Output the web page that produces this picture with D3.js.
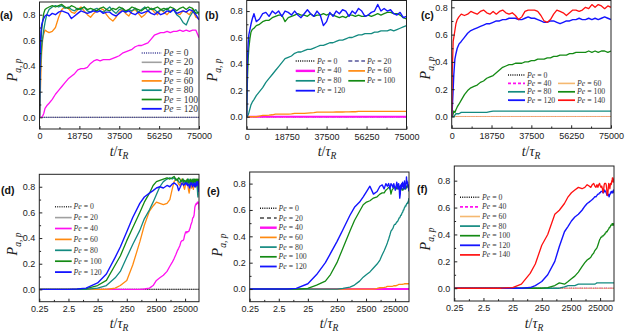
<!DOCTYPE html>
<html><head><meta charset="utf-8">
<script src="https://cdn.jsdelivr.net/npm/d3@7"></script>
<style>body{margin:0;background:#fff}svg{display:block}</style>
</head><body><svg id="c" width="625" height="332"></svg>
<script>
// ---------------- DATA ----------------
const T = [0.25, 1, 2.5, 5, 10, 25, 50, 100, 150, 250, 400, 700, 1000, 1500, 2000, 2600, 3400, 4500, 6000, 7500, 9000,
 10500, 12000, 13500, 15000, 16500, 18000, 19500, 21000, 22500, 24000, 25500,
 27000, 28500, 30000, 31500, 33000, 34500, 36000, 37500, 39000, 40500, 42000,
 43500, 45000, 46500, 48000, 49500, 51000, 52500, 54000, 55500, 57000, 58500,
 60000, 61500, 63000, 64500, 66000, 67500, 69000, 70500, 72000, 73500, 75000];
const tZero = [0.25, 75000];
const zero = [0, 0];

// system of panels (a)/(d)
const A40 = [0,0,0,0,0,0,0,0,0,0,0,0,0.003,0.01,0.03,0.07,0.09,0.11,0.14,0.18,0.21,
 0.24,0.27,0.30,0.32,0.34,0.37,0.38,0.38,0.39,0.42,0.44,
 0.45,0.44,0.45,0.45,0.45,0.46,0.47,0.48,0.50,0.51,0.52,
 0.53,0.55,0.56,0.56,0.57,0.58,0.61,0.64,0.65,0.66,0.66,
 0.67,0.66,0.67,0.67,0.68,0.67,0.68,0.67,0.68,0.68,0.62];
const A60 = [0,0,0,0,0,0,0,0.01,0.03,0.07,0.19,0.37,0.50,0.61,0.65,0.68,0.67,0.66,0.67,0.70,0.78,
 0.84,0.86,0.85,0.82,0.81,0.84,0.86,0.83,0.80,0.78,0.81,
 0.83,0.85,0.84,0.80,0.77,0.75,0.78,0.82,0.84,0.81,0.79,
 0.83,0.84,0.81,0.78,0.80,0.83,0.85,0.82,0.80,0.84,0.82,
 0.80,0.83,0.84,0.81,0.80,0.83,0.82,0.80,0.84,0.78,0.77];
const A80 = [0,0,0,0,0,0.01,0.03,0.09,0.14,0.25,0.35,0.46,0.55,0.62,0.68,0.74,0.80,0.84,0.86,0.87,0.86,
 0.87,0.85,0.86,0.84,0.83,0.85,0.84,0.86,0.83,0.82,0.84,
 0.85,0.83,0.82,0.84,0.86,0.83,0.81,0.84,0.85,0.82,0.84,
 0.83,0.85,0.82,0.84,0.86,0.83,0.85,0.84,0.82,0.84,0.83,
 0.85,0.82,0.84,0.80,0.78,0.74,0.72,0.78,0.82,0.84,0.80];
const A100 = [0,0,0,0.002,0.006,0.03,0.07,0.19,0.26,0.38,0.48,0.60,0.68,0.75,0.81,0.84,0.85,0.86,0.87,0.86,0.87,
 0.88,0.86,0.85,0.87,0.86,0.84,0.85,0.86,0.84,0.85,0.84,
 0.83,0.85,0.86,0.84,0.83,0.85,0.84,0.86,0.85,0.83,0.84,
 0.86,0.85,0.84,0.83,0.85,0.86,0.84,0.85,0.86,0.84,0.85,
 0.84,0.86,0.85,0.83,0.85,0.86,0.84,0.86,0.85,0.81,0.82];
const A120 = [0,0,0,0.003,0.01,0.05,0.12,0.25,0.33,0.45,0.56,0.67,0.72,0.75,0.77,0.79,0.80,0.79,0.81,0.80,0.82,
 0.83,0.82,0.81,0.77,0.79,0.81,0.83,0.82,0.81,0.82,0.83,
 0.82,0.83,0.81,0.82,0.82,0.80,0.79,0.81,0.83,0.82,0.83,
 0.81,0.80,0.82,0.81,0.82,0.83,0.81,0.80,0.82,0.80,0.81,
 0.83,0.82,0.84,0.81,0.82,0.83,0.82,0.84,0.83,0.80,0.76];

// system of panels (b)/(e)
const B60 = [0,0,0,0,0,0,0,0,0,0,0,0,0,0,0,0,0,0,0.005,0.01,0.01,
 0.012,0.015,0.02,0.02,0.02,0.02,0.02,0.022,0.025,0.025,0.025,
 0.025,0.028,0.03,0.032,0.035,0.035,0.035,0.035,0.035,0.035,0.036,
 0.036,0.036,0.037,0.037,0.038,0.038,0.04,0.04,0.04,0.04,0.04,
 0.04,0.04,0.04,0.04,0.04,0.04,0.04,0.04,0.04,0.04,0.04];
const B80 = [0,0,0,0,0,0,0,0,0,0,0.005,0.015,0.03,0.06,0.09,0.11,0.13,0.16,0.19,0.22,0.26,
 0.29,0.32,0.35,0.38,0.41,0.44,0.45,0.46,0.48,0.49,0.49,
 0.50,0.51,0.51,0.52,0.53,0.54,0.54,0.55,0.56,0.56,0.57,
 0.58,0.58,0.59,0.60,0.60,0.61,0.62,0.62,0.63,0.63,0.63,
 0.64,0.64,0.65,0.65,0.65,0.66,0.65,0.66,0.67,0.68,0.69];
const B100 = [0,0,0,0,0,0.005,0.03,0.06,0.11,0.20,0.31,0.44,0.52,0.59,0.64,0.66,0.67,0.69,0.70,0.72,0.73,
 0.73,0.75,0.76,0.77,0.77,0.72,0.75,0.76,0.77,0.78,0.77,
 0.77,0.76,0.78,0.76,0.77,0.77,0.78,0.77,0.78,0.77,0.76,
 0.75,0.76,0.75,0.77,0.77,0.76,0.77,0.76,0.76,0.77,0.76,
 0.77,0.78,0.77,0.78,0.79,0.79,0.78,0.78,0.77,0.75,0.74];
const B120 = [0,0,0,0,0.005,0.04,0.11,0.20,0.27,0.36,0.45,0.56,0.62,0.66,0.70,0.74,0.78,0.72,0.74,0.78,0.79,
 0.76,0.80,0.78,0.80,0.76,0.80,0.79,0.77,0.80,0.77,0.75,
 0.78,0.81,0.78,0.76,0.80,0.77,0.69,0.72,0.79,0.76,0.80,
 0.78,0.81,0.80,0.76,0.80,0.78,0.82,0.80,0.76,0.77,0.79,
 0.80,0.85,0.80,0.82,0.80,0.81,0.78,0.77,0.79,0.75,0.76];

// system of panels (c)/(f)
const C80 = [0,0,0,0,0,0,0,0,0,0,0,0,0,0.01,0.02,0.02,0.02,0.03,0.03,0.03,0.03,
 0.03,0.03,0.03,0.03,0.03,0.035,0.04,0.04,0.04,0.04,0.04,
 0.04,0.04,0.04,0.04,0.04,0.04,0.04,0.04,0.04,0.04,0.04,
 0.04,0.04,0.04,0.04,0.04,0.04,0.04,0.04,0.04,0.04,0.04,
 0.04,0.04,0.04,0.04,0.04,0.04,0.04,0.04,0.04,0.04,0.04];
const C100 = [0,0,0,0,0,0,0,0,0,0,0.005,0.02,0.04,0.03,0.05,0.07,0.09,0.12,0.16,0.19,0.21,
 0.22,0.23,0.25,0.26,0.28,0.29,0.30,0.32,0.34,0.36,0.37,
 0.38,0.38,0.39,0.39,0.39,0.40,0.40,0.41,0.41,0.42,0.42,
 0.42,0.43,0.43,0.44,0.44,0.45,0.45,0.45,0.46,0.46,0.47,
 0.47,0.47,0.47,0.48,0.47,0.48,0.47,0.48,0.48,0.47,0.48];
const C120 = [0,0,0,0,0,0,0,0.005,0.02,0.05,0.10,0.20,0.31,0.42,0.46,0.50,0.53,0.55,0.58,0.61,0.63,
 0.64,0.65,0.66,0.67,0.68,0.68,0.69,0.70,0.70,0.71,0.71,
 0.72,0.72,0.72,0.71,0.71,0.72,0.73,0.72,0.72,0.71,0.70,
 0.69,0.69,0.70,0.70,0.69,0.68,0.69,0.70,0.70,0.71,0.71,
 0.72,0.71,0.71,0.72,0.71,0.72,0.71,0.72,0.73,0.72,0.71];
const C140 = [0,0,0,0,0,0.005,0.03,0.11,0.18,0.32,0.40,0.55,0.58,0.63,0.68,0.71,0.73,0.75,0.74,0.75,0.77,
 0.76,0.75,0.77,0.78,0.76,0.75,0.77,0.75,0.77,0.78,0.76,
 0.75,0.76,0.74,0.71,0.73,0.77,0.78,0.78,0.78,0.77,0.74,
 0.70,0.69,0.71,0.75,0.78,0.77,0.76,0.74,0.76,0.78,0.78,
 0.77,0.78,0.80,0.79,0.82,0.80,0.82,0.81,0.79,0.81,0.80];

const linTicks = [0, 18750, 37500, 56250, 75000];
const linMinor = [9375, 28125, 46875, 65625];
const logTicks = [0.25, 2.5, 25, 250, 2500, 25000];
const yTicks = [0, 0.2, 0.4, 0.6, 0.8];
const yMinor = [0.1, 0.3, 0.5, 0.7];
const panelLabels = ['(a)', '(b)', '(c)', '(d)', '(e)', '(f)'];

// ---------------- SERIES ----------------
const sysA = [{pe:0,t:tZero,v:zero},{pe:20,t:tZero,v:zero},{pe:40,t:T,v:A40},{pe:60,t:T,v:A60},
  {pe:80,t:T,v:A80},{pe:100,t:T,v:A100},{pe:120,t:T,v:A120}];
const sysB = [{pe:0,t:tZero,v:zero},{pe:20,t:tZero,v:zero},{pe:40,t:tZero,v:zero},{pe:60,t:T,v:B60},
  {pe:80,t:T,v:B80},{pe:100,t:T,v:B100},{pe:120,t:T,v:B120}];
const sysC = [{pe:0,t:tZero,v:zero},{pe:40,t:tZero,v:zero},{pe:60,t:tZero,v:zero},{pe:80,t:T,v:C80},
  {pe:100,t:T,v:C100},{pe:120,t:T,v:C120},{pe:140,t:T,v:C140}];

const MAG='#ff10f0', ORA='#ff8a10', TEAL='#138a80', GRN='#148a14', BLU='#1414ff', RED='#ff1010';
const baseSt = {40:{c:MAG,w:1.3},60:{c:ORA,w:1.3},80:{c:TEAL,w:1.3},100:{c:GRN,w:1.3},120:{c:BLU,w:1.4},140:{c:RED,w:1.3}};
const stA = Object.assign({}, baseSt, {0:{c:'#3c3c96',w:1.1,d:'1,1.2'},20:{c:'#a0a0a0',w:1.2}});
const stD = Object.assign({}, baseSt, {0:{c:'#333',w:1.1,d:'1,1.2'},20:{c:'#a0a0a0',w:1.2}});
const stB = Object.assign({}, baseSt, {0:{c:'#111',w:1.1,d:'1,1.2'},20:{c:'#55559a',w:1.2,d:'4,2.5'},40:{c:MAG,w:2}});
const stE = Object.assign({}, baseSt, {0:{c:'#111',w:1.1,d:'1,1.2'},20:{c:'#444',w:1.2,d:'4,3'},40:{c:MAG,w:2}});
const stC = Object.assign({}, baseSt, {0:{c:'#111',w:1.1,d:'1,1.2'},40:{c:MAG,w:1.2,d:'3,2'},60:{c:'#f5b870',w:0.9}});

const order = [20, 0, 40, 60, 80, 100, 120, 140];

const panels = [
 {lab:0, log:false, L:39.5, R:199, T:2, B:129, y0:-0.091, y1:0.899, sys:sysA, st:stA,
  ytx:17, yty:70, xtx:119, xty:156, labx:0, laby:19,
  leg:{fs:9.5, cols:[[141.7,161.7,163.5]], y0:53, dy:9.3, items:[[0,0,0],[20,0,1],[40,0,2],[60,0,3],[80,0,4],[100,0,5],[120,0,6]]}},
 {lab:1, log:false, L:246.7, R:406.5, T:0.5, B:129.3, y0:-0.095, y1:0.88, sys:sysB, st:stB,
  ytx:217, yty:70, xtx:327, xty:156, labx:205, laby:19,
  leg:{fs:7.8, cols:[[295.7,315,317],[348.3,365,367]], y0:61, dy:9.9, items:[[0,0,0],[20,1,0],[40,0,1],[60,1,1],[80,0,2],[100,1,2],[120,0,3]]}},
 {lab:2, log:false, L:451.7, R:611, T:0.5, B:128.3, y0:-0.0866, y1:0.85, sys:sysC, st:stC,
  ytx:430, yty:68, xtx:531, xty:156, labx:421, laby:19,
  leg:{fs:7.8, cols:[[508,525,527],[558,575,577]], y0:75, dy:8.4, items:[[0,0,0],[40,0,1],[60,1,1],[80,0,2],[100,1,2],[120,0,3],[140,1,3]]}},
 {lab:3, log:true, L:39.3, R:199, T:174.3, B:301.7, y0:-0.096, y1:0.897, sys:sysA, st:stD,
  ytx:17, yty:244, xtx:119, xty:328, labx:1, laby:194,
  leg:{fs:7.8, cols:[[55,71.7,73.5]], y0:206.7, dy:10.9, items:[[0,0,0],[20,0,1],[40,0,2],[60,0,3],[80,0,4],[100,0,5],[120,0,6]]}},
 {lab:4, log:true, L:249.7, R:409, T:172, B:301.7, y0:-0.096, y1:0.888, sys:sysB, st:stE,
  ytx:222, yty:245, xtx:329, xty:328, labx:207, laby:195,
  leg:{fs:7.8, cols:[[260,276.7,278.5]], y0:208.3, dy:9.7, items:[[0,0,0],[20,0,1],[40,0,2],[60,0,3],[80,0,4],[100,0,5],[120,0,6]]}},
 {lab:5, log:true, L:454.3, R:614, T:166, B:301, y0:-0.095, y1:0.909, sys:sysC, st:stC,
  ytx:430, yty:239, xtx:534, xty:328, labx:417, laby:193,
  leg:{fs:7.8, cols:[[460,480,482]], y0:197.3, dy:9.6, items:[[0,0,0],[40,0,1],[60,0,2],[80,0,3],[100,0,4],[120,0,5],[140,0,6]]}}
];

// ---------------- DRAW ----------------
const svg = d3.select('#c');
const SANS = "'Liberation Sans', Arial, sans-serif";
const SERIF = "'Liberation Serif', 'Times New Roman', serif";

panels.forEach((p, pi) => {
  const x = p.log ? d3.scaleLog().domain([0.25, 75000]).range([p.L, p.R])
                  : d3.scaleLinear().domain([0, 75000]).range([p.L, p.R]);
  const y = d3.scaleLinear().domain([p.y0, p.y1]).range([p.B, p.T]);
  const clipId = 'clip' + pi;
  svg.append('clipPath').attr('id', clipId).append('rect')
    .attr('x', p.L).attr('y', p.T).attr('width', p.R - p.L).attr('height', p.B - p.T);
  const g = svg.append('g').attr('clip-path', `url(#${clipId})`);
  const line = d3.line().x(d => x(d[0])).y(d => y(d[1]));
  order.forEach(pe => {
    const s = p.sys.find(s => s.pe === pe);
    if (!s) return;
    const st = p.st[pe];
    const pts = s.t.map((t, i) => [t, s.v[i]]).filter(d => d[1] !== undefined);
    g.append('path').attr('d', line(pts)).attr('fill', 'none')
      .attr('stroke', st.c).attr('stroke-width', st.w)
      .attr('stroke-dasharray', st.d || null).attr('stroke-linejoin', 'round');
  });

  // axes
  const xAxis = p.log
    ? d3.axisBottom(x).tickValues(logTicks).tickFormat(d => String(d))
    : d3.axisBottom(x).tickValues(linTicks).tickFormat(d3.format('d'));
  xAxis.tickSizeInner(-3).tickSizeOuter(0).tickPadding(4);
  const xa = svg.append('g').attr('transform', `translate(0,${p.B})`).call(xAxis);
  const xMinorVals = p.log ? logTicks.map(v => v * Math.sqrt(10)).filter(v => v < 75000) : linMinor;
  const xm = svg.append('g').attr('transform', `translate(0,${p.B})`)
    .call(d3.axisBottom(x).tickValues(xMinorVals).tickFormat('').tickSizeInner(-1.8).tickSizeOuter(0));
  const ya = svg.append('g').attr('transform', `translate(${p.L},0)`)
    .call(d3.axisLeft(y).tickValues(yTicks).tickFormat(d3.format('.1f')).tickSizeInner(-3).tickSizeOuter(0).tickPadding(4));
  const ym = svg.append('g').attr('transform', `translate(${p.L},0)`)
    .call(d3.axisLeft(y).tickValues(yMinor).tickFormat('').tickSizeInner(-1.8).tickSizeOuter(0));
  [xa, xm, ya, ym].forEach(a => {
    a.select('.domain').remove();
    a.selectAll('line').attr('stroke', '#222');
    a.selectAll('text').style('font-family', SANS).style('font-size', '9px').attr('fill', '#222');
  });
  svg.append('rect').attr('x', p.L).attr('y', p.T).attr('width', p.R - p.L).attr('height', p.B - p.T)
    .attr('fill', 'none').attr('stroke', '#222').attr('stroke-width', 1);

  // y title
  const yt = svg.append('text').attr('transform', `translate(${p.ytx},${p.yty}) rotate(-90)`)
    .attr('text-anchor', 'middle').style('font-family', SERIF).style('font-size', '14px').attr('fill', '#222');
  yt.append('tspan').style('font-style', 'italic').text('P');
  yt.append('tspan').attr('dy', 3.5).style('font-size', '9.5px').style('font-style', 'italic').text('a, p');
  // x title
  const xt = svg.append('text').attr('x', p.xtx).attr('y', p.xty)
    .attr('text-anchor', 'middle').style('font-family', SERIF).style('font-size', '14px').attr('fill', '#222');
  xt.append('tspan').style('font-style', 'italic').text('t');
  xt.append('tspan').text('/');
  xt.append('tspan').style('font-style', 'italic').text('τ');
  xt.append('tspan').attr('dy', 3).style('font-size', '9.5px').style('font-style', 'italic').text('R');
  // panel label
  svg.append('text').attr('x', p.labx).attr('y', p.laby).text(panelLabels[p.lab])
    .style('font-family', SANS).style('font-size', '10.5px').style('font-weight', 'bold').attr('fill', '#111');

  // legend
  const lg = svg.append('g');
  p.leg.items.forEach(([pe, col, row]) => {
    const st = p.st[pe];
    const c = p.leg.cols[col];
    const yy = p.leg.y0 + row * p.leg.dy;
    lg.append('line').attr('x1', c[0]).attr('x2', c[1]).attr('y1', yy).attr('y2', yy)
      .attr('stroke', st.c).attr('stroke-width', Math.max(st.w, 1.2) + 0.4)
      .attr('stroke-dasharray', st.d || null);
    const tx = lg.append('text').attr('x', c[2]).attr('y', yy + p.leg.fs * 0.33)
      .style('font-family', SERIF).style('font-size', p.leg.fs + 'px').attr('fill', '#333');
    tx.append('tspan').style('font-style', 'italic').text('Pe');
    tx.append('tspan').text(' = ' + pe);
  });
});
</script>
</body></html>
